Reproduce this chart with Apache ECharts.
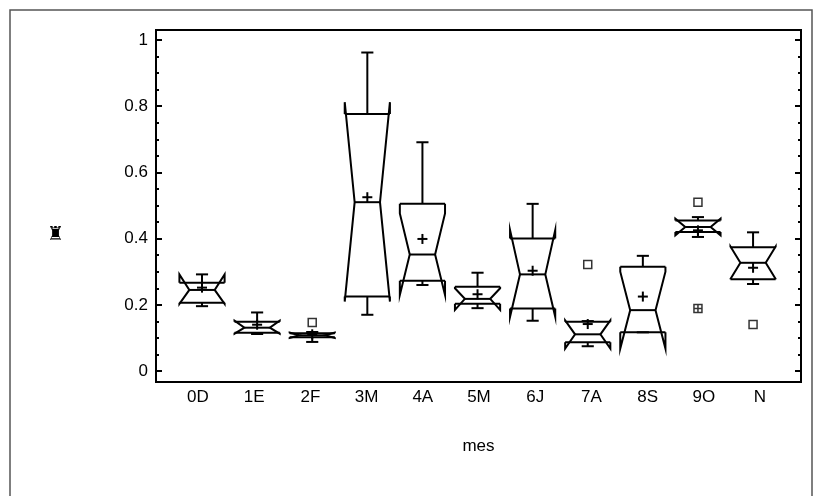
<!DOCTYPE html>
<html>
<head>
<meta charset="utf-8">
<script src="https://cdn.jsdelivr.net/npm/echarts@6/dist/echarts.min.js"></script>
<style>
html,body{margin:0;padding:0;background:#fff;}
#chart{width:815px;height:496px;}
</style>
</head>
<body>
<div id="chart"></div>
<script>
// categories and box statistics
var cats = ['0D','1E','2F','3M','4A','5M','6J','7A','8S','9O','N'];
var whiskerLow  = [0.196,0.112,0.088,0.170,0.260,0.190,0.152,0.075,0.117,0.405,0.263];
var notchLow    = [0.203,0.113,0.100,0.210,0.230,0.185,0.164,0.068,0.068,0.410,0.278];
var q1          = [0.206,0.116,0.102,0.225,0.273,0.203,0.189,0.087,0.117,0.420,0.277];
var median      = [0.245,0.131,0.108,0.510,0.352,0.218,0.292,0.111,0.184,0.435,0.327];
var q3          = [0.267,0.149,0.114,0.776,0.505,0.255,0.400,0.149,0.315,0.455,0.374];
var notchHigh   = [0.292,0.152,0.116,0.812,0.476,0.250,0.426,0.153,0.300,0.460,0.376];
var whiskerHigh = [0.292,0.177,0.118,0.962,0.691,0.297,0.505,0.151,0.348,0.465,0.419];
var mean        = [0.252,0.140,0.111,0.525,0.399,0.232,0.303,0.142,0.225,0.425,0.312];
// outliers: [category index, value]
var outliers    = [[2,0.147],[7,0.322],[9,0.510],[10,0.141]];
var farOutliers = [[9,0.189]];

var yLabels = [0,0.2,0.4,0.6,0.8,1];
var yMinor = [];
for (var t = 0; t <= 20; t++) yMinor.push(+(t*0.05).toFixed(2));

var boxData = [];
for (var i = 0; i < cats.length; i++) {
    boxData.push([i, whiskerLow[i], notchLow[i], q1[i], median[i], q3[i], notchHigh[i], whiskerHigh[i], mean[i]]);
}

var HW = 0.41, INSET = 0.18, CAP = 0.11;
var lineStyle = {stroke:'#000', lineWidth:2, fill:null};

function seg(api, a, b) {
    var p = api.coord(a), q = api.coord(b);
    return {type:'line', shape:{x1:p[0],y1:p[1],x2:q[0],y2:q[1]}, style:lineStyle};
}
function poly(api, pts) {
    return {type:'polyline', shape:{points:pts.map(function(p){return api.coord(p);})}, style:lineStyle};
}

function renderBox(params, api) {
    var x = api.value(0);
    var wl = api.value(1), nl = api.value(2), a1 = api.value(3), md = api.value(4),
        a3 = api.value(5), nh = api.value(6), wh = api.value(7), mn = api.value(8);
    var ch = [];
    // whiskers
    ch.push(seg(api,[x,a3],[x,wh]));
    ch.push(seg(api,[x-CAP,wh],[x+CAP,wh]));
    ch.push(seg(api,[x,a1],[x,wl]));
    ch.push(seg(api,[x-CAP,wl],[x+CAP,wl]));
    // quartile lines and median
    ch.push(seg(api,[x-HW,a3],[x+HW,a3]));
    ch.push(seg(api,[x-HW,a1],[x+HW,a1]));
    ch.push(seg(api,[x-HW+INSET,md],[x+HW-INSET,md]));
    // notched sides
    ch.push(poly(api,[[x-HW,a3],[x-HW,nh],[x-HW+INSET,md],[x-HW,nl],[x-HW,a1]]));
    ch.push(poly(api,[[x+HW,a3],[x+HW,nh],[x+HW-INSET,md],[x+HW,nl],[x+HW,a1]]));
    // mean plus
    var c = api.coord([x,mn]);
    ch.push({type:'line', shape:{x1:c[0]-5,y1:c[1],x2:c[0]+5,y2:c[1]}, style:lineStyle});
    ch.push({type:'line', shape:{x1:c[0],y1:c[1]-5,x2:c[0],y2:c[1]+5}, style:lineStyle});
    return {type:'group', children:ch};
}

var FONT = '"Liberation Sans", Arial, sans-serif';
var myChart = echarts.init(document.getElementById('chart'));

function tickAxis(pos, len, vals, labels) {
    return {
        type:'value', position:pos, min:-0.033, max:1.03,
        axisLine:{show:false, onZero:false}, splitLine:{show:false},
        axisTick:{show:true, inside:true, length:len, customValues:vals, lineStyle:{color:'#000', width:2}},
        axisLabel: labels ? {customValues:labels, color:'#000', fontSize:17, fontFamily:FONT, margin:8} : {show:false}
    };
}

var option = {
    animation: false,
    backgroundColor: '#fff',
    grid: {left:156, right:14, top:30, bottom:114, show:true, borderColor:'#000', borderWidth:2, containLabel:false},
    xAxis: [
        { // box positions
            type:'value', min:-0.835, max:10.87,
            axisLine:{show:false, onZero:false}, axisTick:{show:false}, axisLabel:{show:false}, splitLine:{show:false}
        },
        { // category labels
            type:'value', position:'bottom', min:-0.747, max:10.73,
            axisLine:{show:false, onZero:false}, axisTick:{show:false}, splitLine:{show:false},
            axisLabel:{
                customValues:[0,1,2,3,4,5,6,7,8,9,10],
                formatter:function(v){ return cats[Math.round(v)]; },
                color:'#000', fontSize:17, fontFamily:FONT, margin:7
            },
            name:'mes', nameLocation:'middle', nameGap:56,
            nameTextStyle:{color:'#000', fontSize:17, fontFamily:FONT}
        }
    ],
    yAxis: [
        tickAxis('left', 6, yLabels, yLabels),
        tickAxis('left', 3, yMinor, null),
        tickAxis('right', 6, yLabels, null),
        tickAxis('right', 3, yMinor, null)
    ],
    graphic: [
        {type:'rect', shape:{x:10, y:10, width:802, height:500}, style:{fill:null, stroke:'#555', lineWidth:1.5}, silent:true},
        {type:'text', left:47, top:226, style:{text:'♜', fill:'#000', fontSize:19, fontFamily:'"DejaVu Sans"', fontWeight:'bold'}, silent:true}
    ],
    series: [
        {
            type:'custom', xAxisIndex:0, yAxisIndex:0,
            renderItem: renderBox,
            encode:{x:0, y:[1,7]},
            data: boxData
        },
        {
            type:'scatter', xAxisIndex:0, yAxisIndex:0,
            symbol:'rect', symbolSize:8,
            itemStyle:{color:'#fff', borderColor:'#000', borderWidth:1.5},
            data: outliers
        },
        {
            type:'scatter', xAxisIndex:0, yAxisIndex:0,
            symbol:'path://M0,0H10V10H0Z M5,0V10 M0,5H10', symbolSize:8,
            itemStyle:{color:'#fff', borderColor:'#000', borderWidth:1.5},
            data: farOutliers
        }
    ]
};
myChart.setOption(option);
window.onresize = function(){ myChart.resize(); };
</script>
</body>
</html>
